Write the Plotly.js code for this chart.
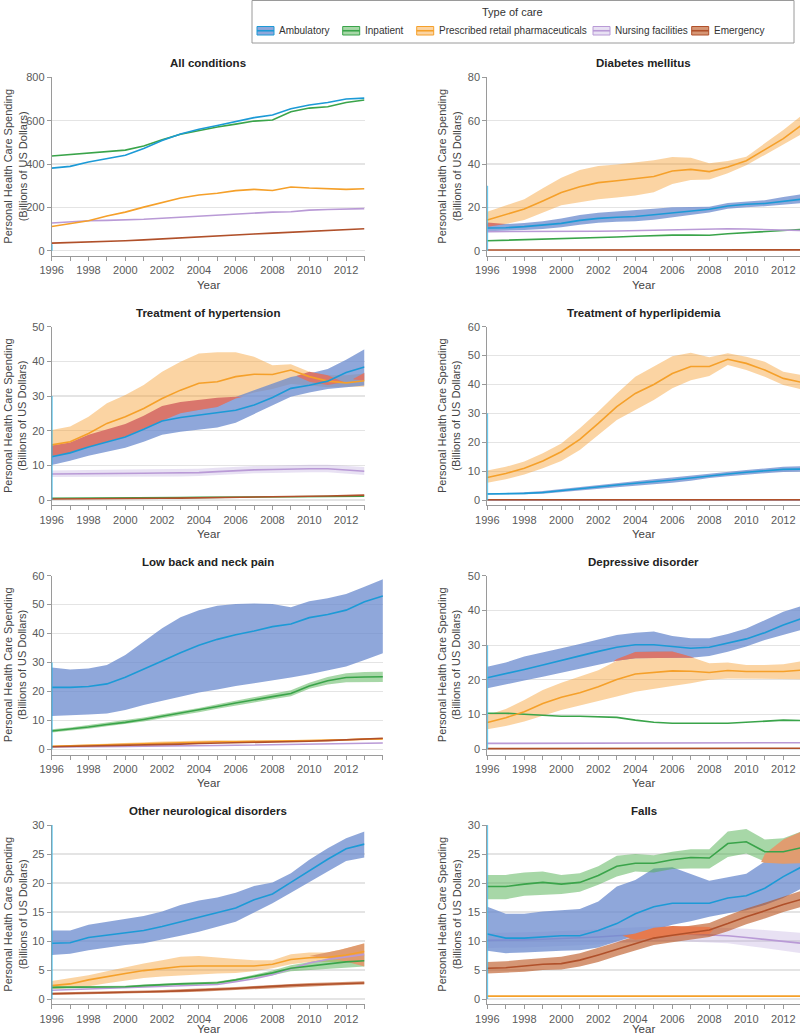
<!DOCTYPE html>
<html><head><meta charset="utf-8">
<script src="https://cdn.plot.ly/plotly-3.0.1.min.js"></script>
<style>html,body{margin:0;padding:0;background:#fff;}#chart{width:800px;height:1036px;}</style>
</head><body><div id="chart"></div>
<script>
// ---------------- DATA ----------------
const careTypes = ['Ambulatory','Inpatient','Prescribed retail pharmaceuticals','Nursing facilities','Emergency'];
const panelTitles = ['All conditions','Diabetes mellitus','Treatment of hypertension','Treatment of hyperlipidemia',
  'Low back and neck pain','Depressive disorder','Other neurological disorders','Falls'];
const yMaxes = [800, 80, 50, 60, 60, 50, 30, 30];
const yDticks = [200, 20, 10, 10, 10, 10, 5, 5];
const years = [1996,1997,1998,1999,2000,2001,2002,2003,2004,2005,2006,2007,2008,2009,2010,2011,2012,2013];
const yearsLB = [1996,1997,1998,1999,2000,2001,2002,2003,2004,2005,2006,2007,2008,2009,2010,2011,2012,2013,2014];
const yearLabels = [1996,1998,2000,2002,2004,2006,2008,2010,2012];
const axisMarkX = [1996, 1996];
const axisMarkY = [0, 30];

// All conditions
const allAmb = [381,389,409,425,440,472,508,538,560,578,595,614,626,655,672,684,700,704];
const allInp = [437,443,451,458,464,483,512,537,555,571,584,598,603,641,658,664,684,695];
const allPha = [112,125,138,160,178,201,223,243,257,265,277,283,278,294,289,286,283,286];
const allNur = [128,134,138,140,141,145,150,155,160,164,168,172,178,180,187,190,192,194];
const allEme = [35,37,40,43,46,50,55,60,65,69,73,77,81,85,89,93,97,101];

// Diabetes mellitus
const diaAmb   = [10.5,10.6,11.1,11.7,12.6,14.0,14.9,15.4,15.8,16.6,17.5,18.3,19.1,20.6,21.4,21.8,22.8,23.8];
const diaAmbHi = [12.3,12.3,12.8,13.6,14.8,16.5,17.5,18.0,18.5,19.3,20.0,20.0,20.3,22.0,22.8,23.3,24.8,26.0];
const diaAmbLo = [9.0,9.1,9.5,10.0,10.8,12.0,12.9,13.3,13.6,14.3,15.5,16.6,17.6,19.3,20.1,20.5,21.2,22.0];
const diaPha   = [14.2,16.8,19.2,22.9,26.8,29.5,31.4,32.3,33.4,34.2,36.8,37.5,36.5,38.6,41.5,46.5,51.7,58.0];
const diaPhaHi = [18.0,20.8,23.7,28.8,33.7,37.2,39.1,39.8,40.9,41.7,43.2,42.9,40.3,41.4,43.4,49.5,55.7,62.5];
const diaPhaLo = [11.0,12.3,14.2,17.7,21.0,22.3,23.7,24.6,25.5,27.0,30.8,32.6,32.9,35.7,39.4,44.2,49.2,53.8];
const diaInp   = [4.6,4.8,5.0,5.2,5.4,5.7,6.0,6.3,6.7,7.0,7.2,7.2,7.1,7.8,8.3,8.6,9.2,9.8];
const diaNur   = [8.8,8.8,8.7,8.7,8.8,8.9,9.0,9.1,9.3,9.5,9.7,10.0,10.0,10.1,10.0,9.8,9.5,9.3];
const diaEme   = [0.3,0.3,0.3,0.3,0.3,0.3,0.3,0.3,0.3,0.3,0.3,0.3,0.3,0.3,0.4,0.4,0.4,0.4];
const diaOverX = [1996, 1997];
const diaOverLo = [11.0, 12.3];
const diaOverHi = [13.0, 12.3];

// Treatment of hypertension
const hypAmb   = [12.5,13.6,15.3,16.8,18.2,20.4,22.8,23.8,24.5,25.1,25.9,27.4,29.6,32.2,33.1,34.3,36.8,38.4];
const hypAmbHi = [14.5,15.8,17.5,19.0,20.5,23.0,25.5,26.5,27.0,27.8,29.7,31.8,33.6,35.5,36.5,37.8,40.5,43.5];
const hypAmbLo = [10.1,11.3,12.8,13.9,15.1,16.8,18.8,19.7,20.2,20.9,22.3,24.8,27.4,29.8,31.0,32.0,32.5,33.0];
const hypPha   = [15.9,16.8,19.2,22.1,24.0,26.4,29.3,31.7,33.7,34.1,35.6,36.3,36.2,37.5,35.6,34.3,33.8,34.4];
const hypPhaHi = [20.2,21.2,24.0,27.9,30.3,33.2,37.0,39.9,42.3,42.6,42.6,41.3,38.9,39.2,37.0,36.0,36.0,36.5];
const hypPhaLo = [12.5,13.5,15.3,17.0,18.5,20.8,23.5,25.2,26.0,26.8,29.5,31.0,32.0,33.5,33.0,32.5,32.7,32.7];
const hypNur   = [7.5,7.5,7.5,7.6,7.7,7.7,7.8,7.8,7.9,8.2,8.5,8.7,8.8,9.0,9.0,9.0,8.7,8.3];
const hypNurHi = [8.5,8.5,8.6,8.7,8.8,8.8,8.9,8.9,9.0,9.3,9.6,9.8,9.9,10.1,10.2,10.2,9.9,9.5];
const hypNurLo = [6.6,6.6,6.6,6.6,6.7,6.7,6.8,6.8,6.9,7.2,7.5,7.7,7.8,8.0,8.0,8.0,7.6,7.2];
const hypInp   = [0.5,0.5,0.5,0.55,0.6,0.6,0.65,0.7,0.75,0.8,0.8,0.85,0.9,0.95,1.0,1.05,1.1,1.1];
const hypEme   = [0.3,0.3,0.35,0.4,0.4,0.45,0.5,0.55,0.6,0.65,0.7,0.8,0.85,0.95,1.05,1.15,1.25,1.4];
const hypOver1X  = [1996,1997,1998,1999,2000,2001,2002,2003,2004,2005,2006,2006.4];
const hypOver1Lo = [12.7,13.7,15.4,16.9,18.3,20.5,22.9,25.0,26.0,26.8,29.3,29.8];
const hypOver1Hi = [15.7,16.6,18.8,20.3,21.9,24.3,27.1,28.3,29.0,29.5,29.8,29.8];
const hypOver2X  = [2009.3,2010,2011,2011.9];
const hypOver2Lo = [35.8,34.1,33.2,34.0];
const hypOver2Hi = [35.8,37.0,36.0,34.0];
const hypOver3X  = [2012.4,2013];
const hypOver3Lo = [34.8,34.5];
const hypOver3Hi = [35.0,36.7];

// Treatment of hyperlipidemia
const lipPha   = [7.8,9.2,11.0,13.5,16.7,21.0,26.5,32.3,36.9,40.0,43.8,46.2,46.2,48.7,47.3,45.0,42.1,40.7];
const lipPhaHi = [10.2,11.5,13.3,16.2,19.6,24.8,30.6,36.9,42.7,46.2,49.8,51.0,49.4,50.8,49.6,47.9,44.4,43.3];
const lipPhaLo = [6.0,7.2,8.8,11.0,13.5,17.3,22.5,27.7,31.2,34.6,38.7,41.5,42.9,46.7,45.0,42.7,39.8,38.3];
const lipAmb   = [2.1,2.1,2.3,2.6,3.3,3.9,4.6,5.2,5.8,6.3,6.9,7.6,8.4,9.0,9.6,10.1,10.6,10.7];
const lipAmbHi = [2.4,2.4,2.7,3.1,3.8,4.5,5.3,6.0,6.7,7.2,7.8,8.5,9.2,9.8,10.4,10.9,11.5,11.7];
const lipAmbLo = [1.9,1.9,2.0,2.2,2.8,3.3,3.9,4.4,4.9,5.4,6.0,6.7,7.6,8.2,8.8,9.3,9.7,9.8];
const lipInp   = [0.05,0.05,0.05,0.05,0.05,0.05,0.05,0.05,0.05,0.05,0.05,0.05,0.05,0.05,0.05,0.05,0.05,0.05];
const lipNur   = [0.05,0.05,0.05,0.05,0.05,0.05,0.05,0.05,0.05,0.05,0.05,0.05,0.05,0.05,0.05,0.05,0.05,0.05];
const lipEme   = [0.1,0.1,0.1,0.1,0.1,0.1,0.1,0.1,0.1,0.1,0.1,0.1,0.1,0.1,0.1,0.1,0.1,0.1];

// Low back and neck pain (1996-2014)
const lbAmb   = [21.4,21.4,21.7,22.6,24.9,27.6,30.5,33.4,36.0,38.0,39.6,40.9,42.4,43.3,45.5,46.6,48.1,51.0,53.0];
const lbAmbHi = [28.3,27.6,27.9,29.1,32.6,37.2,41.8,45.6,48.1,49.6,50.2,50.4,50.2,49.1,51.2,52.2,53.7,56.2,58.8];
const lbAmbLo = [11.5,11.7,12.0,12.4,13.6,15.3,16.8,18.2,19.6,20.7,21.9,22.8,23.7,24.8,25.9,27.2,28.6,30.9,33.2];
const lbInp   = [6.3,6.9,7.7,8.6,9.3,10.3,11.4,12.4,13.5,14.8,16.0,17.0,18.2,19.3,21.9,23.7,24.8,25.0,25.1];
const lbInpHi = [6.9,7.5,8.4,9.3,10.0,11.0,12.1,13.1,14.3,15.6,16.8,17.9,19.2,20.4,23.0,25.0,26.3,26.7,26.8];
const lbInpLo = [5.8,6.4,7.1,8.0,8.7,9.6,10.7,11.7,12.8,14.0,15.2,16.2,17.3,18.3,20.9,22.4,23.2,23.2,23.3];
const lbPha   = [1.0,1.2,1.4,1.6,1.8,2.0,2.2,2.4,2.5,2.6,2.6,2.7,2.8,2.8,2.9,3.1,3.3,3.5,3.6];
const lbPhaHi = [1.2,1.4,1.7,1.9,2.2,2.4,2.7,2.9,3.0,3.1,3.1,3.2,3.2,3.2,3.2,3.4,3.6,3.8,3.9];
const lbPhaLo = [0.8,1.0,1.2,1.4,1.5,1.7,1.9,2.0,2.1,2.2,2.2,2.3,2.4,2.4,2.6,2.8,3.0,3.2,3.3];
const lbEme   = [0.9,1.0,1.1,1.3,1.5,1.6,1.7,1.8,2.0,2.1,2.2,2.3,2.4,2.5,2.8,3.0,3.2,3.5,3.8];
const lbNur   = [0.8,0.8,0.9,0.9,1.0,1.1,1.1,1.2,1.3,1.3,1.4,1.5,1.6,1.7,1.8,1.9,2.0,2.1,2.2];

// Depressive disorder
const depAmb   = [20.6,21.7,23.0,24.3,25.5,26.9,28.2,29.4,30.1,30.1,29.6,29.1,29.4,30.5,31.8,33.6,35.8,37.7];
const depAmbHi = [23.8,25.0,26.7,27.8,29.1,30.3,31.7,32.9,33.6,33.9,32.6,32.0,32.0,33.2,34.8,37.2,39.6,41.3];
const depAmbLo = [17.6,18.8,19.8,20.9,22.1,23.3,24.5,25.5,26.2,26.4,26.4,26.4,26.9,28.1,29.6,31.5,32.9,34.4];
const depPha   = [7.7,9.1,10.8,13.2,15.0,16.3,18.0,20.1,21.7,22.1,22.6,22.5,22.1,22.7,22.4,22.4,22.4,22.8];
const depPhaHi = [9.9,11.6,14.2,17.1,19.2,20.9,22.8,25.5,28.1,28.3,28.2,26.6,24.8,25.0,24.3,24.3,24.5,25.4];
const depPhaLo = [5.8,6.7,8.0,9.6,11.3,12.6,13.8,15.2,16.6,17.3,18.2,19.0,20.0,20.4,20.4,20.2,20.2,20.2];
const depInp   = [10.4,10.4,10.1,9.7,9.5,9.5,9.4,9.2,8.4,7.8,7.5,7.6,7.5,7.5,7.8,8.3,8.4,8.3];
const depNur   = [1.7,1.7,1.7,1.7,1.7,1.8,1.8,1.8,1.8,1.8,1.8,1.9,1.9,1.9,1.9,1.9,1.9,1.9];
const depEme   = [0.2,0.2,0.2,0.2,0.2,0.2,0.2,0.2,0.2,0.2,0.2,0.3,0.3,0.3,0.3,0.3,0.3,0.3];
const depOverX  = [2002.8,2003,2004,2005,2006,2006.6,2007.2];
const depOverLo = [25.3,25.5,26.2,26.4,26.4,26.4,26.4];
const depOverHi = [25.3,26.0,28.0,28.2,28.2,27.3,26.4];

// Other neurological disorders
const neuAmb   = [9.6,9.7,10.6,11.0,11.3,11.8,12.5,13.3,14.1,14.8,15.7,17.1,18.1,20.1,22.1,24.1,25.9,26.7];
const neuAmbHi = [11.8,11.8,12.8,13.3,13.7,14.3,15.1,16.2,17.0,17.5,18.3,19.5,20.1,21.7,24.0,26.0,27.7,28.9];
const neuAmbLo = [7.6,7.8,8.4,8.9,9.3,9.6,10.2,10.9,11.6,12.4,13.3,14.9,16.5,18.3,20.2,22.0,23.8,24.4];
const neuPha   = [2.3,2.6,3.3,3.9,4.4,4.9,5.3,5.6,5.7,5.7,5.7,5.7,6.0,6.8,7.1,7.2,7.6,8.2];
const neuPhaHi = [3.1,3.6,4.1,4.8,5.5,6.1,6.7,7.3,7.4,7.1,6.9,6.7,6.7,7.7,8.0,8.0,8.7,9.5];
const neuPhaLo = [1.7,1.9,2.2,2.7,3.2,3.6,3.9,4.1,4.3,4.4,4.5,4.8,5.3,6.0,6.4,6.4,6.4,6.7];
const neuInp   = [2.0,2.0,2.0,2.05,2.1,2.3,2.5,2.6,2.7,2.8,3.3,3.9,4.5,5.3,5.7,6.1,6.4,6.6];
const neuInpHi = [2.2,2.2,2.2,2.3,2.3,2.5,2.7,2.8,2.9,3.0,3.5,4.2,4.9,5.8,6.4,6.9,7.3,7.6];
const neuInpLo = [1.8,1.8,1.8,1.8,1.9,2.1,2.3,2.4,2.5,2.6,3.1,3.6,4.1,4.8,5.0,5.3,5.5,5.6];
const neuNur   = [1.5,1.6,1.7,1.8,1.9,2.0,2.1,2.2,2.3,2.5,3.0,3.5,4.2,5.2,6.2,6.8,7.3,7.7];
const neuEme   = [0.9,0.95,1.0,1.05,1.1,1.2,1.3,1.4,1.5,1.65,1.8,2.0,2.2,2.35,2.45,2.55,2.65,2.75];
const neuEmeHi = [1.1,1.15,1.2,1.3,1.35,1.45,1.55,1.65,1.75,1.9,2.05,2.25,2.45,2.6,2.75,2.85,2.95,3.05];
const neuEmeLo = [0.7,0.75,0.8,0.85,0.9,1.0,1.05,1.15,1.25,1.4,1.55,1.75,1.95,2.1,2.2,2.3,2.4,2.5];
const neuOverX  = [2010,2011,2011.7,2013];
const neuOverLo = [7.4,7.0,6.7,5.6];
const neuOverHi = [7.4,8.1,8.5,9.6];

// Falls
const falInp   = [19.4,19.4,19.8,20.1,19.8,20.1,21.3,22.9,23.4,23.4,24.0,24.4,24.3,26.8,27.1,25.4,25.4,26.1];
const falInpHi = [21.4,21.4,21.8,22.0,21.4,21.7,22.9,24.7,25.0,24.8,25.4,25.8,25.8,28.9,29.3,27.5,27.7,28.9];
const falInpLo = [17.2,17.2,17.8,17.9,18.1,18.5,19.7,21.1,22.0,21.8,22.4,22.5,22.5,24.5,25.1,23.7,23.4,23.7];
const falAmb   = [11.2,10.5,10.5,10.7,10.9,10.9,11.8,13.0,14.7,15.9,16.5,16.5,16.5,17.4,17.8,19.1,21.1,22.8];
const falAmbHi = [15.9,14.7,14.7,15.1,15.3,15.5,16.8,19.4,20.5,22.5,22.7,21.5,20.4,21.0,21.6,23.7,24.0,24.5];
const falAmbLo = [8.3,7.9,8.0,8.2,8.3,8.4,8.9,9.9,10.9,11.9,12.8,13.4,14.2,14.8,15.3,16.2,17.4,19.1];
const falEme   = [5.3,5.4,5.7,6.0,6.1,6.7,7.6,8.6,9.6,10.5,11.0,11.4,11.9,13.0,14.2,15.2,16.3,17.2];
const falEmeHi = [6.4,6.5,6.8,7.1,7.3,7.9,8.8,9.8,10.8,11.7,12.2,12.6,13.1,14.4,15.6,16.6,17.7,18.7];
const falEmeLo = [4.4,4.5,4.7,5.0,5.1,5.6,6.4,7.4,8.4,9.3,9.8,10.2,10.7,11.7,12.9,13.9,15.0,15.9];
const falNur   = [10.1,10.1,10.2,10.3,10.4,10.5,10.7,10.9,11.1,11.2,11.3,11.2,11.1,10.9,10.6,10.3,10.0,9.6];
const falNurHi = [11.4,11.4,11.5,11.6,11.7,11.8,12.0,12.2,12.4,12.5,12.6,12.5,12.4,12.3,12.1,11.9,11.7,11.4];
const falNurLo = [8.8,8.8,8.9,9.0,9.1,9.2,9.4,9.6,9.8,9.9,10.0,9.9,9.8,9.6,9.2,8.8,8.4,7.9];
const falPha   = [0.5,0.5,0.5,0.5,0.5,0.55,0.6,0.6,0.55,0.5,0.5,0.5,0.5,0.5,0.5,0.5,0.5,0.5];
const falOver1X  = [2003.3,2004,2005,2006,2007,2008,2008.2];
const falOver1Lo = [10.9,10.2,10.5,10.8,11.1,11.2,11.9];
const falOver1Hi = [10.9,11.3,12.3,12.6,12.5,12.4,11.9];
const falOver2X  = [2010.8,2011,2012,2013];
const falOver2Lo = [23.6,23.5,23.3,23.4];
const falOver2Hi = [23.6,25.0,27.5,28.9];

// ---------------- STYLE ----------------
const W = 800, H = 1036;
const FONT = '"Liberation Sans",Arial,sans-serif';
const keys = ['amb','inp','pha','nur','eme'];
const lineColor = {amb:'#1c9ad6', inp:'#3aa44a', pha:'#f5a02a', nur:'#b99ad6', eme:'#b0502a'};
const bandColor = {amb:'rgba(106,137,206,0.75)', inp:'rgba(80,175,80,0.5)', pha:'rgba(246,160,50,0.45)',
                   nur:'rgba(180,155,215,0.3)', eme:'rgba(185,80,25,0.6)'};
const overRed = 'rgb(217,118,108)', overRedOrange = 'rgb(230,122,78)', overBrown = 'rgb(224,156,112)';
const PX = x => x / W, PY = y => 1 - y / H;

// geometry
const cols = [{x0:51.7, x1:364.5, range:[1996,2013], ytx:15},
              {x0:487.3, x1:800, range:[1996, 1996 + (800-487.3)/18.5], ytx:449}];
const rows = [{T:77.3, Z:250.7, yr:34}, {T:326.7, Z:500, yr:34}, {T:575.7, Z:749.3, yr:34}, {T:825, Z:999, yr:29.5}];
const AXGAP = 5.3;

// ---------------- TRACES ----------------
const traces = [];
function ids(i){ return {xaxis:'x'+(i===1?'':i), yaxis:'y'+(i===1?'':i)}; }
function addLine(i, x, y, k, w){
  traces.push(Object.assign({type:'scatter', mode:'lines', x, y, line:{color:lineColor[k], width:w||1.6},
    hoverinfo:'skip', showlegend:false}, ids(i)));
}
function addBand(i, x, lo, hi, k){
  traces.push(Object.assign({type:'scatter', mode:'lines', x, y:lo, line:{width:0, color:'rgba(0,0,0,0)'},
    hoverinfo:'skip', showlegend:false}, ids(i)));
  traces.push(Object.assign({type:'scatter', mode:'lines', x, y:hi, fill:'tonexty', fillcolor:bandColor[k],
    line:{width:0, color:'rgba(0,0,0,0)'}, hoverinfo:'skip', showlegend:false}, ids(i)));
}
function addPatch(i, x, lo, hi, color){
  const xs = x.concat(x.slice().reverse());
  const ys = hi.concat(lo.slice().reverse());
  traces.push(Object.assign({type:'scatter', mode:'lines', x:xs, y:ys, fill:'toself', fillcolor:color,
    line:{width:0, color:'rgba(0,0,0,0)'}, hoverinfo:'skip', showlegend:false}, ids(i)));
}

// 1 All conditions
addLine(1, years, allEme, 'eme'); addLine(1, years, allNur, 'nur'); addLine(1, years, allPha, 'pha');
addLine(1, years, allInp, 'inp'); addLine(1, years, allAmb, 'amb');

// 2 Diabetes
addBand(2, years, diaPhaLo, diaPhaHi, 'pha'); addBand(2, years, diaAmbLo, diaAmbHi, 'amb');
addPatch(2, diaOverX, diaOverLo, diaOverHi, overRed);
addLine(2, years, diaEme, 'eme'); addLine(2, years, diaInp, 'inp'); addLine(2, years, diaNur, 'nur');
addLine(2, years, diaPha, 'pha'); addLine(2, years, diaAmb, 'amb');

// 3 Hypertension
addBand(3, years, hypNurLo, hypNurHi, 'nur'); addBand(3, years, hypPhaLo, hypPhaHi, 'pha');
addBand(3, years, hypAmbLo, hypAmbHi, 'amb');
addPatch(3, hypOver1X, hypOver1Lo, hypOver1Hi, overRed);
addPatch(3, hypOver2X, hypOver2Lo, hypOver2Hi, overRed);
addPatch(3, hypOver3X, hypOver3Lo, hypOver3Hi, overRed);
addLine(3, years, hypInp, 'inp'); addLine(3, years, hypEme, 'eme'); addLine(3, years, hypNur, 'nur');
addLine(3, years, hypPha, 'pha'); addLine(3, years, hypAmb, 'amb');

// 4 Hyperlipidemia
addBand(4, years, lipPhaLo, lipPhaHi, 'pha'); addBand(4, years, lipAmbLo, lipAmbHi, 'amb');
addLine(4, years, lipInp, 'inp'); addLine(4, years, lipNur, 'nur'); addLine(4, years, lipEme, 'eme');
addLine(4, years, lipAmb, 'amb'); addLine(4, years, lipPha, 'pha');

// 5 Low back and neck pain
addBand(5, yearsLB, lbAmbLo, lbAmbHi, 'amb'); addBand(5, yearsLB, lbInpLo, lbInpHi, 'inp');
addBand(5, yearsLB, lbPhaLo, lbPhaHi, 'pha');
addLine(5, yearsLB, lbNur, 'nur'); addLine(5, yearsLB, lbPha, 'pha'); addLine(5, yearsLB, lbEme, 'eme');
addLine(5, yearsLB, lbInp, 'inp'); addLine(5, yearsLB, lbAmb, 'amb');

// 6 Depressive disorder
addBand(6, years, depPhaLo, depPhaHi, 'pha'); addBand(6, years, depAmbLo, depAmbHi, 'amb');
addPatch(6, depOverX, depOverLo, depOverHi, overRed);
addLine(6, years, depEme, 'eme'); addLine(6, years, depNur, 'nur'); addLine(6, years, depInp, 'inp');
addLine(6, years, depPha, 'pha'); addLine(6, years, depAmb, 'amb');

// 7 Other neurological disorders
addBand(7, years, neuAmbLo, neuAmbHi, 'amb'); addBand(7, years, neuPhaLo, neuPhaHi, 'pha');
addBand(7, years, neuInpLo, neuInpHi, 'inp'); addBand(7, years, neuEmeLo, neuEmeHi, 'eme');
addPatch(7, neuOverX, neuOverLo, neuOverHi, overBrown);
addLine(7, years, neuEme, 'eme'); addLine(7, years, neuNur, 'nur'); addLine(7, years, neuInp, 'inp');
addLine(7, years, neuPha, 'pha'); addLine(7, years, neuAmb, 'amb');

// 8 Falls
addBand(8, years, falNurLo, falNurHi, 'nur'); addLine(8, years, falNur, 'nur');
addBand(8, years, falAmbLo, falAmbHi, 'amb'); addBand(8, years, falInpLo, falInpHi, 'inp');
addBand(8, years, falEmeLo, falEmeHi, 'eme');
addPatch(8, falOver1X, falOver1Lo, falOver1Hi, overRedOrange);
addPatch(8, falOver2X, falOver2Lo, falOver2Hi, overBrown);
addLine(8, years, falPha, 'pha'); addLine(8, years, falEme, 'eme'); addLine(8, years, falInp, 'inp');
addLine(8, years, falAmb, 'amb');

// ---------------- LAYOUT ----------------
const layout = {
  width: W, height: H, margin:{l:0, r:0, t:0, b:0}, paper_bgcolor:'#fff', plot_bgcolor:'#fff',
  showlegend:false, font:{family:FONT, size:11, color:'#555'}, annotations:[], shapes:[]
};
const tickFont = {family:FONT, size:11, color:'#5a5a5a'};
for (let i = 1; i <= 8; i++){
  const c = cols[(i-1) % 2], r = rows[Math.floor((i-1) / 2)];
  const yMax = yMaxes[i-1];
  let x1 = c.x1, xr = c.range;
  if (i === 5){ x1 = 51.7 + 18.4*18; xr = [1996, 2014]; }
  const sfx = i === 1 ? '' : i;
  layout['xaxis'+sfx] = {
    domain:[PX(c.x0), PX(x1)], range:xr, anchor:'y'+sfx, showgrid:false, zeroline:false,
    showline:true, linecolor:'#9a9a9a', linewidth:1, ticks:'outside', ticklen:4, tickcolor:'#9a9a9a',
    tickmode:'array', tickvals:yearLabels, ticktext:yearLabels.map(String), tickfont:tickFont,
    minor:{dtick:1, tick0:1996, ticks:'outside', ticklen:4, tickcolor:'#9a9a9a', showgrid:false}
  };
  const bottom = r.Z + AXGAP;
  layout['yaxis'+sfx] = {
    domain:[PY(bottom), PY(r.T)], range:[-yMax*AXGAP/(r.Z - r.T), yMax], anchor:'x'+sfx,
    dtick:yDticks[i-1], tick0:0, showgrid:true, gridcolor:'#e4e4e4', gridwidth:1.2, zeroline:false,
    showline:true, linecolor:'#9a9a9a', linewidth:1, ticks:'outside', ticklen:4, tickcolor:'#9a9a9a',
    tickfont:tickFont
  };
  // bright marker segment on the y axis (as in the source figure)
  layout.shapes.push({type:'line', xref:'x'+sfx, yref:'y'+sfx, x0:axisMarkX[0], x1:axisMarkX[1],
    y0:axisMarkY[0], y1:axisMarkY[1], line:{color:'#2bb6ea', width:1.6}, layer:'above'});
  const cx = (c.x0 + c.x1) / 2;
  layout.annotations.push({xref:'paper', yref:'paper', x:PX(cx), y:PY(r.T - 14), xanchor:'center', yanchor:'middle',
    text:'<b>'+panelTitles[i-1]+'</b>', showarrow:false, font:{family:FONT, size:11.5, color:'#222'}});
  layout.annotations.push({xref:'paper', yref:'paper', x:PX(cx), y:PY(r.Z + r.yr), xanchor:'center', yanchor:'middle',
    text:'Year', showarrow:false, font:{family:FONT, size:11.5, color:'#444'}});
  layout.annotations.push({xref:'paper', yref:'paper', x:PX(c.ytx), y:PY((r.T + bottom)/2), xanchor:'center', yanchor:'middle',
    textangle:-90, text:'Personal Health Care Spending<br>(Billions of US Dollars)', showarrow:false,
    font:{family:FONT, size:11, color:'#444'}});
}

// Legend box (manual)
layout.shapes.push({type:'rect', xref:'paper', yref:'paper', x0:PX(252), x1:PX(794), y0:PY(43), y1:PY(0.5),
  line:{color:'#9a9a9a', width:1}, fillcolor:'rgba(0,0,0,0)'});
layout.annotations.push({xref:'paper', yref:'paper', x:PX(512), y:PY(12), xanchor:'center', yanchor:'middle',
  text:'Type of care', showarrow:false, font:{family:FONT, size:11, color:'#333'}});
const swatchX = [257, 342.7, 416.7, 593, 691.7];
careTypes.forEach((name, j) => {
  const k = keys[j], sx = swatchX[j];
  layout.shapes.push({type:'rect', xref:'paper', yref:'paper', x0:PX(sx), x1:PX(sx+17), y0:PY(35), y1:PY(26.5),
    line:{color:lineColor[k], width:1}, fillcolor:bandColor[k]});
  layout.shapes.push({type:'line', xref:'paper', yref:'paper', x0:PX(sx), x1:PX(sx+17), y0:PY(30.75), y1:PY(30.75),
    line:{color:lineColor[k], width:1.6}});
  layout.annotations.push({xref:'paper', yref:'paper', x:PX(sx+20), y:PY(30.75), xanchor:'left', yanchor:'middle',
    text:name, showarrow:false, font:{family:FONT, size:10, color:'#333'}});
});

Plotly.newPlot('chart', traces, layout, {staticPlot:true, displayModeBar:false});
</script></body></html>
